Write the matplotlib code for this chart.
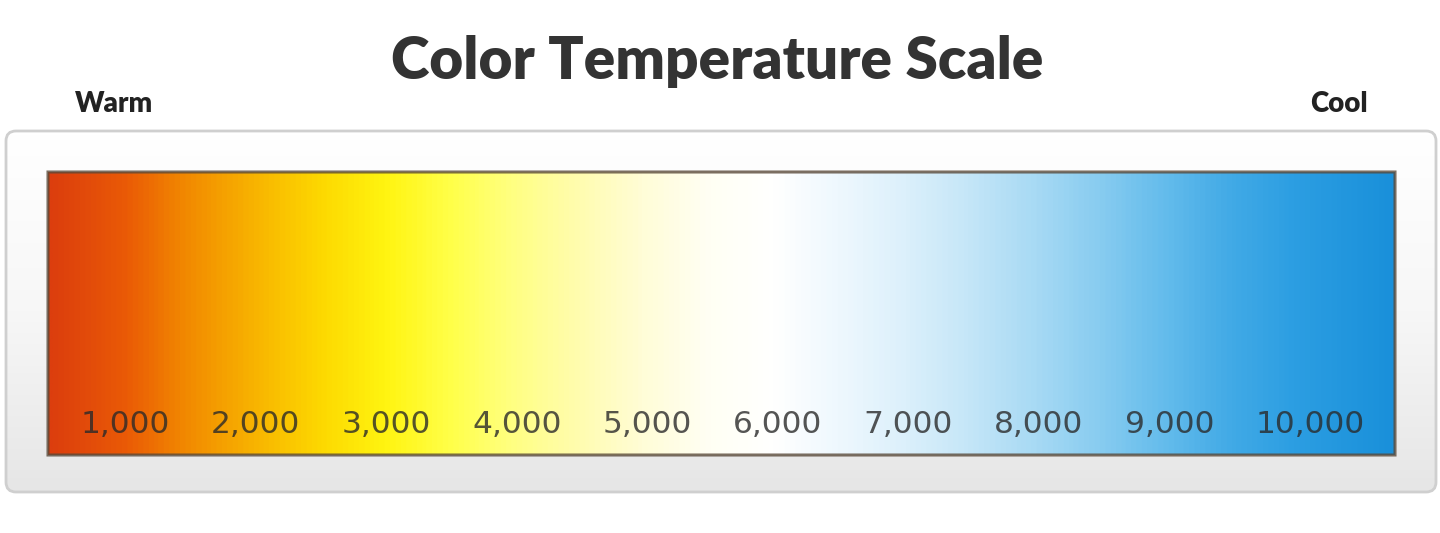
import numpy as np
import matplotlib.pyplot as plt
from matplotlib.colors import LinearSegmentedColormap
from matplotlib.patches import FancyBboxPatch

# colour temperatures (K) with the colour
stop_temps = [430, 1000, 1500, 2000, 2500, 3000, 3500, 4000, 4500, 5000,
              5500, 6000, 6500, 7000, 7500, 8000, 8500, 9000, 9500, 10000, 10750]
stop_colors = ["#dc3e0e", "#ea5a06", "#f28c00", "#f8b400", "#fdd800", "#fff410",
               "#ffff48", "#ffff84", "#fffcb0", "#fffdd8", "#fffff4", "#ffffff",
               "#eef8fe", "#dcf0fb", "#c4e6f8", "#a8daf4", "#88ccf0", "#64bcec",
               "#42aae6", "#2c9ee2", "#1a90da"]
ticks = [1000, 2000, 3000, 4000, 5000, 6000, 7000, 8000, 9000, 10000]
tick_labels = ["1,000", "2,000", "3,000", "4,000", "5,000",
               "6,000", "7,000", "8,000", "9,000", "10,000"]

W, H = 1440, 533
fig = plt.figure(figsize=(W / 100, H / 100), dpi=100)
fig.patch.set_facecolor("white")

# background axes in pixel units
bg = fig.add_axes([0, 0, 1, 1])
bg.set_xlim(0, W)
bg.set_ylim(H, 0)
bg.axis("off")

# outer panel: light grey gradient with a rounded border
panel_grad = np.linspace(0, 1, 100).reshape(-1, 1)
panel_cmap = LinearSegmentedColormap.from_list("panel", ["#ffffff", "#f7f7f7", "#e6e6e6"])
panel = FancyBboxPatch((6, 131), 1430, 361, boxstyle="round,pad=0,rounding_size=10",
                       facecolor="none", edgecolor="#cfcfcf", lw=2, zorder=3)
bg.add_patch(panel)
im = bg.imshow(panel_grad, cmap=panel_cmap, aspect="auto",
               extent=(6, 1436, 492, 131), zorder=1)
im.set_clip_path(panel)

# title and end labels
bg.text(717, 61, "Color Temperature Scale", ha="center", va="center",
        fontsize=42, fontweight="heavy", family="Lato", color="#333333")
bg.text(114, 104, "Warm", ha="center", va="center", fontsize=20,
        fontweight="heavy", family="Lato", color="#222222")
bg.text(1339, 104, "Cool", ha="center", va="center", fontsize=20,
        fontweight="heavy", family="Lato", color="#222222")

# the colour bar itself, in kelvin
x0, x1, y0, y1 = 48, 1395, 172, 455
ax = fig.add_axes([x0 / W, 1 - y1 / H, (x1 - x0) / W, (y1 - y0) / H])
ax.set_xlim(stop_temps[0], stop_temps[-1])
ax.set_ylim(0, 1)
ax.axis("off")

span = stop_temps[-1] - stop_temps[0]
pos = [(t - stop_temps[0]) / span for t in stop_temps]
cmap = LinearSegmentedColormap.from_list("ct", list(zip(pos, stop_colors)))
xs = np.linspace(stop_temps[0], stop_temps[-1], 1000)
ax.imshow(xs.reshape(1, -1), cmap=cmap, aspect="auto",
          extent=(stop_temps[0], stop_temps[-1], 0, 1),
          vmin=stop_temps[0], vmax=stop_temps[-1])

# dark shaded frame around the bar
frame = FancyBboxPatch((stop_temps[0], 0), span, 1,
                       boxstyle="round,pad=0,rounding_size=0.01",
                       facecolor="none", edgecolor="#5a4a3a", lw=2.2, alpha=0.8,
                       mutation_aspect=30, clip_on=False)
ax.add_patch(frame)

# labels are left-aligned, starting a little before each tick
for t, lab in zip(ticks, tick_labels):
    ax.text(t - 320, 0.107, lab, ha="left", va="center", fontsize=22.5,
            family="DejaVu Sans", color="#2a2a2a", alpha=0.8)

fig.savefig("out.png", dpi=100)
